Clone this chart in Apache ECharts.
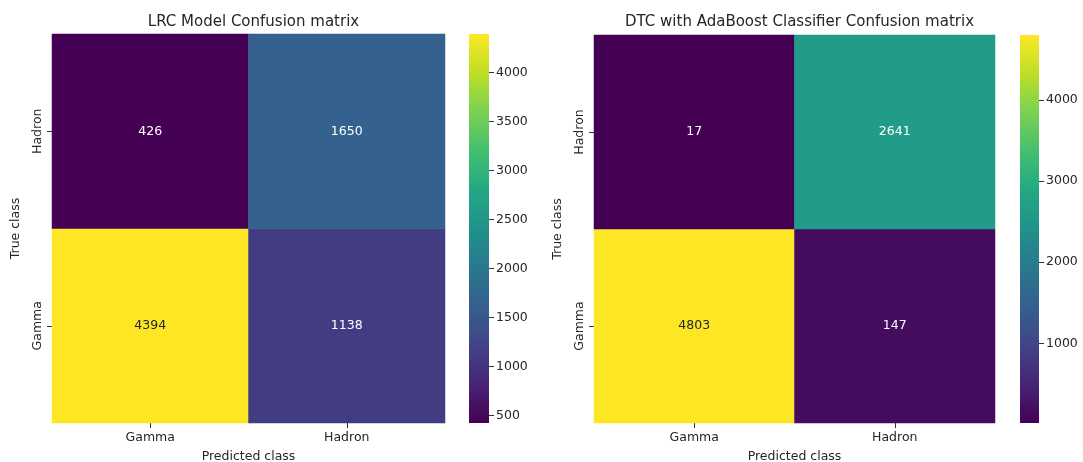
<!DOCTYPE html>
<html>
<head>
<meta charset="utf-8">
<script src="https://cdn.jsdelivr.net/npm/echarts@6/dist/echarts.min.js"></script>
<style>
  html, body { margin: 0; padding: 0; background: #ffffff; }
  #chart { width: 1083px; height: 462px; }
</style>
</head>
<body>
<div id="chart"></div>
<script>
// Class labels (rows: true class, columns: predicted class)
const classes = ['Gamma', 'Hadron'];

// Confusion matrix counts, rows = true class [Gamma, Hadron], cols = predicted [Gamma, Hadron]
const lrcMatrix = [
  [4394, 1138],
  [426, 1650]
];
const adaMatrix = [
  [4803, 147],
  [17, 2641]
];

const titles = ['LRC Model Confusion matrix', 'DTC with AdaBoost Classifier Confusion matrix'];

// Colour bar tick values
const lrcTicks = [500, 1000, 1500, 2000, 2500, 3000, 3500, 4000];
const adaTicks = [1000, 2000, 3000, 4000];

const viridis = ['#440154', '#482475', '#414487', '#355f8d', '#2a788e', '#21918c',
                 '#22a884', '#44bf70', '#7ad151', '#bddf26', '#fde725'];

const FONT = 'DejaVu Sans';
const TXT = '#262626';
const LBL = 12.5;

const panels = [
  { matrix: lrcMatrix, ticks: lrcTicks, title: titles[0],
    grid: { left: 52, top: 34, width: 393, height: 389 },
    bar:  { left: 469, top: 34, width: 20, height: 389 } },
  { matrix: adaMatrix, ticks: adaTicks, title: titles[1],
    grid: { left: 594, top: 35, width: 401, height: 388 },
    bar:  { left: 1020, top: 35, width: 19, height: 388 } }
];

const grids = [], xAxes = [], yAxes = [], series = [], visualMaps = [], titleOpts = [];

panels.forEach((p, i) => {
  const flat = p.matrix.flat();
  const vmin = Math.min(...flat), vmax = Math.max(...flat);
  const hi = grids.length;          // heatmap grid index
  grids.push(Object.assign({ outerBoundsMode: 'none', containLabel: false }, p.grid));
  const ci = grids.length;          // colour bar grid index
  grids.push(Object.assign({ outerBoundsMode: 'none', containLabel: false }, p.bar));

  titleOpts.push({
    text: p.title,
    left: p.grid.left + p.grid.width / 2,
    top: 10,
    textAlign: 'center',
    textStyle: { fontFamily: FONT, fontSize: 15, fontWeight: 'normal', color: TXT }
  });

  // heatmap axes
  xAxes.push({
    type: 'category', gridIndex: hi, data: classes,
    name: 'Predicted class', nameLocation: 'middle', nameGap: 27,
    nameTextStyle: { fontFamily: FONT, fontSize: LBL, color: TXT },
    axisLine: { show: false },
    axisTick: { show: true, alignWithLabel: true, length: 5, lineStyle: { color: '#333' } },
    axisLabel: { fontFamily: FONT, fontSize: LBL, color: TXT, margin: 8 },
    splitLine: { show: false }
  });
  yAxes.push({
    type: 'category', gridIndex: hi, data: classes,
    name: 'True class', nameLocation: 'middle', nameGap: 30,
    nameTextStyle: { fontFamily: FONT, fontSize: LBL, color: TXT },
    axisLine: { show: false },
    axisTick: { show: true, alignWithLabel: true, length: 5, lineStyle: { color: '#333' } },
    axisLabel: { fontFamily: FONT, fontSize: LBL, color: TXT, rotate: 90, margin: 8 },
    splitLine: { show: false }
  });

  // colour bar axes
  xAxes.push({ type: 'category', gridIndex: ci, data: [''], show: false });
  yAxes.push({
    type: 'value', gridIndex: ci, min: vmin, max: vmax, position: 'right',
    axisLine: { show: false },
    axisTick: { show: true, length: 5, customValues: p.ticks, lineStyle: { color: '#333' } },
    axisLabel: {
      fontFamily: FONT, fontSize: LBL, color: TXT, margin: 7, customValues: p.ticks,
      formatter: (v) => String(v)
    },
    splitLine: { show: false }
  });

  const data = [];
  p.matrix.forEach((row, r) => {
    row.forEach((v, c) => {
      const t = (v - vmin) / (vmax - vmin);
      data.push({
        value: [c, r, v],
        label: { color: t > 0.6 ? TXT : '#ffffff' }
      });
    });
  });

  const si = series.length;
  series.push({
    type: 'heatmap',
    xAxisIndex: hi, yAxisIndex: hi,
    data: data,
    label: {
      show: true, fontFamily: FONT, fontSize: LBL,
      formatter: (prm) => String(prm.value[2])
    },
    itemStyle: { borderWidth: 0 },
    emphasis: { disabled: true }
  });
  visualMaps.push({
    show: false, type: 'continuous', seriesIndex: si, dimension: 2,
    min: vmin, max: vmax, inRange: { color: viridis }
  });

  // colour bar drawn as a gradient rect spanning vmin..vmax on its own axis
  series.push({
    type: 'custom',
    xAxisIndex: ci, yAxisIndex: ci,
    data: [[0, vmin, vmax]],
    silent: true,
    renderItem: (params, api) => {
      const lo = api.coord([api.value(0), api.value(1)]);
      const top = api.coord([api.value(0), api.value(2)]);
      const w = api.size([1, 0])[0];
      return {
        type: 'rect',
        shape: { x: lo[0] - w / 2, y: top[1], width: w, height: lo[1] - top[1] },
        style: {
          fill: new echarts.graphic.LinearGradient(0, 1, 0, 0,
            viridis.map((c, k) => ({ offset: k / (viridis.length - 1), color: c })))
        }
      };
    }
  });
});

const chart = echarts.init(document.getElementById('chart'), null, { renderer: 'canvas' });
chart.setOption({
  backgroundColor: '#ffffff',
  animation: false,
  title: titleOpts,
  grid: grids,
  xAxis: xAxes,
  yAxis: yAxes,
  visualMap: visualMaps,
  series: series
});
</script>
</body>
</html>
